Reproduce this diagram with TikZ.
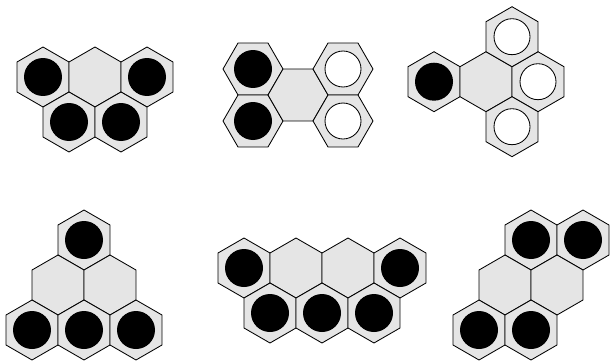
\documentclass[tikz,border=0pt]{standalone}
\usepackage{tikz}
\usetikzlibrary{shapes.geometric}
\tikzstyle{hexflat} = [regular polygon, regular polygon sides=6, minimum size=3cm, inner sep=0pt, outer sep=0pt, draw=black, fill=black!10, line width=1.2pt]
\tikzstyle{hex} = [hexflat, rotate=30]
\tikzstyle{blackstone} = [circle, minimum size=1.9cm, inner sep=0pt, fill=black]
\tikzstyle{whitestone} = [circle, minimum size=1.8cm, inner sep=0pt, draw=black, fill=white, line width=1.2pt]

\begin{document}
\begin{tikzpicture}[x=0.05cm, y=-0.05cm]
  \useasboundingbox (0,0) rectangle (610,361);
  % top left
  \node (a1) [hex] at (43,77) {};
  \node (a2) [hex] at (95,77) {};
  \node (a3) [hex] at (147,77) {};
  \node (a4) [hex] at (69,122) {};
  \node (a5) [hex] at (121,122) {};
  % top middle
  \node (b1) [hexflat] at (253,69) {};
  \node (b2) [hexflat] at (253,121) {};
  \node (b3) [hexflat] at (298,95) {};
  \node (b4) [hexflat] at (343,69) {};
  \node (b5) [hexflat] at (343,121) {};
  % top right
  \node (c1) [hex] at (434,81.7) {};
  \node (c2) [hex] at (486,81.7) {};
  \node (c3) [hex] at (538,81.7) {};
  \node (c4) [hex] at (512,36.7) {};
  \node (c5) [hex] at (512,126.7) {};
  % bottom left
  \node (d1) [hex] at (84,240) {};
  \node (d2) [hex] at (58,285) {};
  \node (d3) [hex] at (110,285) {};
  \node (d4) [hex] at (32,330) {};
  \node (d5) [hex] at (84,330) {};
  \node (d6) [hex] at (136,330) {};
  % bottom middle
  \node (e1) [hex] at (244,268) {};
  \node (e2) [hex] at (296,268) {};
  \node (e3) [hex] at (348,268) {};
  \node (e4) [hex] at (400,268) {};
  \node (e5) [hex] at (270,313) {};
  \node (e6) [hex] at (322,313) {};
  \node (e7) [hex] at (374,313) {};
  % bottom right
  \node (f1) [hex] at (531,240) {};
  \node (f2) [hex] at (583,240) {};
  \node (f3) [hex] at (505,285) {};
  \node (f4) [hex] at (557,285) {};
  \node (f5) [hex] at (479,330) {};
  \node (f6) [hex] at (531,330) {};

  % stones
  \node (sa1) [blackstone] at (a1) {};
  \node (sa3) [blackstone] at (a3) {};
  \node (sa4) [blackstone] at (a4) {};
  \node (sa5) [blackstone] at (a5) {};
  \node (sb1) [blackstone] at (b1) {};
  \node (sb2) [blackstone] at (b2) {};
  \node (sb4) [whitestone] at (b4) {};
  \node (sb5) [whitestone] at (b5) {};
  \node (sc1) [blackstone] at (c1) {};
  \node (sc3) [whitestone] at (c3) {};
  \node (sc4) [whitestone] at (c4) {};
  \node (sc5) [whitestone] at (c5) {};
  \node (sd1) [blackstone] at (d1) {};
  \node (sd4) [blackstone] at (d4) {};
  \node (sd5) [blackstone] at (d5) {};
  \node (sd6) [blackstone] at (d6) {};
  \node (se1) [blackstone] at (e1) {};
  \node (se4) [blackstone] at (e4) {};
  \node (se5) [blackstone] at (e5) {};
  \node (se6) [blackstone] at (e6) {};
  \node (se7) [blackstone] at (e7) {};
  \node (sf1) [blackstone] at (f1) {};
  \node (sf2) [blackstone] at (f2) {};
  \node (sf5) [blackstone] at (f5) {};
  \node (sf6) [blackstone] at (f6) {};
\end{tikzpicture}
\end{document}
